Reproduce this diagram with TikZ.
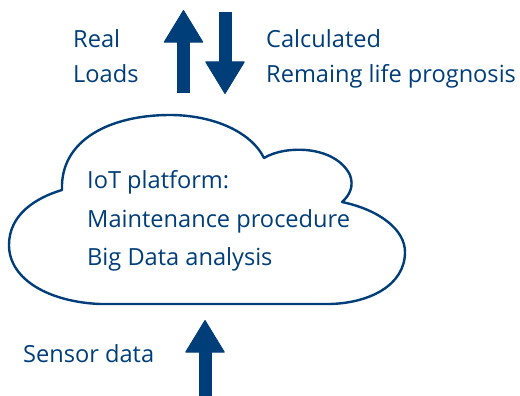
\documentclass[tikz,border=0pt]{standalone}
\usepackage{fontspec}
\setmainfont{Open Sans}
\usetikzlibrary{arrows.meta}
\definecolor{iotblue}{RGB}{0,62,122}
\tikzset{
  lbl/.style={anchor=base west, inner sep=0pt, text=iotblue, font=\fontsize{23.6}{24}\selectfont},
  bigarrow/.style={iotblue, line width=13pt, -{Triangle[width=40pt, length=33pt, line width=1pt, round]}},
}
\begin{document}
\begin{tikzpicture}[x=1pt, y=-1pt]
\useasboundingbox (0,0) rectangle (520,396);
\draw[iotblue, line width=2.4pt, line join=round] (62,190) .. controls (60,140) and (110,115) .. (170,115) .. controls (210,115) and (250,130) .. (264,158) .. controls (285,145) and (335,145) .. (350,175) .. controls (354,186) and (350,195) .. (342,202) .. controls (380,210) and (405,230) .. (405,252) .. controls (405,285) and (370,303) .. (330,304) -- (100,304) .. controls (50,302) and (9,280) .. (9,245) .. controls (9,215) and (35,198) .. cycle;
\node[lbl] (iot) at (87,188){IoT platform:};
\node[lbl] (maint) at (87,227){Maintenance procedure};
\node[lbl] (bigdata) at (87,265){Big Data analysis};
\node[lbl] (real) at (73,48){Real};
\node[lbl] (loads) at (73,83){Loads};
\node[lbl] (calc) at (266,48){Calculated};
\node[lbl] (prog) at (266,83){Remaing life prognosis};
\node[lbl] (sensor) at (23,362){Sensor data};
\coordinate (upfoot) at (183.5,93);
\coordinate (uptip) at (183.5,10);
\coordinate (downfoot) at (225,12);
\coordinate (downtip) at (225,94);
\coordinate (sensorfoot) at (205,396);
\coordinate (sensortip) at (205,320);
\draw[bigarrow] (upfoot) -- (uptip);
\draw[bigarrow] (downfoot) -- (downtip);
\draw[bigarrow] (sensorfoot) -- (sensortip);
\end{tikzpicture}
\end{document}
